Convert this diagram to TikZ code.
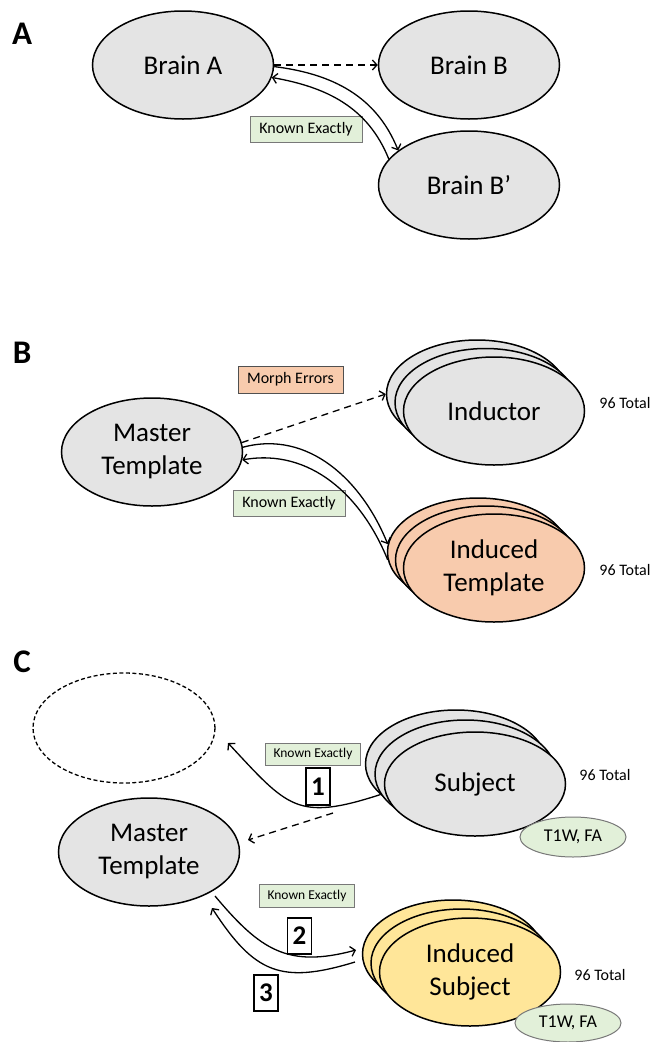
\documentclass[tikz,border=0pt]{standalone}
\usepackage{fontspec}
\setmainfont{Carlito}
\usetikzlibrary{shapes.geometric,arrows.meta}
\definecolor{ellgray}{RGB}{228,228,228}
\definecolor{orangefill}{RGB}{248,203,173}
\definecolor{yellowfill}{RGB}{255,230,153}
\definecolor{greenfill}{RGB}{226,240,217}
\definecolor{boxborder}{RGB}{120,120,120}
\definecolor{morphborder}{RGB}{80,80,80}
\begin{document}
\begin{tikzpicture}[x=1pt,y=1pt,
  >={Straight Barb[length=4.5pt,width=10pt]},
  ell/.style={ellipse, draw, line width=1.5pt, fill=ellgray, inner sep=0pt,
    minimum width=181pt, minimum height=108pt, align=center,
    font=\fontsize{27}{33}\selectfont},
  dashell/.style={ellipse, draw, line width=1.3pt, dash pattern=on 4pt off 2.5pt,
    inner sep=0pt, minimum width=182pt, minimum height=110pt},
  tag/.style={ellipse, draw=boxborder, line width=1pt, fill=greenfill, inner sep=0pt,
    minimum width=106pt, minimum height=40pt, font=\fontsize{18}{20}\selectfont},
  knownbox/.style={rectangle, draw=boxborder, line width=1pt, fill=greenfill, inner sep=0pt,
    minimum width=112pt, minimum height=26pt, font=\fontsize{16}{18}\selectfont},
  smallknown/.style={knownbox, minimum width=95pt, minimum height=22pt,
    font=\fontsize{13.5}{15}\selectfont},
  morphbox/.style={rectangle, draw=morphborder, line width=1pt, fill=orangefill, inner sep=0pt,
    minimum width=105pt, minimum height=27pt, font=\fontsize{16}{18}\selectfont},
  numbox/.style={rectangle, draw, line width=1.2pt, fill=white, inner sep=0pt,
    minimum width=24pt, minimum height=36pt, font=\fontsize{27}{30}\selectfont\bfseries},
  total/.style={inner sep=0pt, font=\fontsize{16}{18}\selectfont},
  panel/.style={inner sep=0pt, font=\fontsize{33}{36}\selectfont\bfseries},
  conn/.style={line width=1.3pt, ->},
  dconn/.style={line width=1.3pt, ->, dash pattern=on 7pt off 5pt}]
\useasboundingbox (0,0) rectangle (653,-1042);

% ---------------- Panel A ----------------
\node[panel] (labA) at (22,-34) {A};
\node[ell] (bA) at (183,-65) {Brain A};
\node[ell] (bB) at (469,-65) {Brain B};
\node[ell] (bBp) at (469,-185) {Brain B’};
\node[knownbox] (kA) at (306,-129) {Known Exactly};
\draw[dconn] (bA.east) -- (bB.west);
\draw[conn] (bA.-1) to[out=-7,in=112] (bBp.154);
\draw[conn] (bBp.162) to[out=112,in=-10] (bA.-8);

% ---------------- Panel B ----------------
\node[panel] (labB) at (22,-353) {B};
\node[ell] (mB) at (152,-452) {Master\\Template};
\node[ell] (indBack) at (477,-394) {};
\node[ell] (indMid) at (485.5,-402.5) {};
\node[ell] (ind) at (494,-411) {Inductor};
\node[ell, fill=orangefill] (itBack) at (478,-552) {};
\node[ell, fill=orangefill] (itMid) at (486,-560) {};
\node[ell, fill=orangefill] (it) at (494,-568) {Induced\\Template};
\node[total] (tB1) at (625,-403) {96 Total};
\node[total] (tB2) at (625,-570) {96 Total};
\node[morphbox] (mErr) at (290.5,-379.5) {Morph Errors};
\node[knownbox] (kB) at (289,-503) {Known Exactly};
\draw[dconn] (mB.6) -- (indBack.west);
\draw[conn] (mB.3) to[out=15,in=112] (itBack.175);
\draw[conn] (itBack.185) to[out=112,in=10] (mB.-5);

% ---------------- Panel C ----------------
\node[panel] (labC) at (22,-662) {C};
\node[dashell] (empty) at (124,-728) {};
\node[ell] (mC) at (149,-852) {Master\\Template};
\node[ell] (sBack) at (456,-764) {};
\node[ell] (sMid) at (465.5,-774) {};
\node[ell, minimum height=104pt] (sub) at (475,-784) {Subject};
\node[tag] (tag1) at (573,-837) {T1W, FA};
\node[ell, fill=yellowfill] (isBack) at (453,-954) {};
\node[ell, fill=yellowfill] (isMid) at (461.5,-963) {};
\node[ell, fill=yellowfill] (is) at (470,-972) {Induced\\Subject};
\node[tag, minimum height=38pt] (tag2) at (568,-1023) {T1W, FA};
\node[total] (tC1) at (605,-775) {96 Total};
\node[total] (tC2) at (600,-975) {96 Total};
\node[smallknown] (kC1) at (313,-754) {Known Exactly};
\node[smallknown, minimum height=23pt] (kC2) at (307,-895.5) {Known Exactly};
\node[numbox, minimum height=37pt] (n1) at (318,-786.5) {1};
\node[numbox] (n2) at (299.5,-936) {2};
\node[numbox] (n3) at (266,-993) {3};

\coordinate (c1tip) at (228,-743);
\coordinate (dStart) at (333,-813);
\coordinate (dTip) at (248,-840);
\coordinate (c2s) at (215,-896);
\coordinate (c2e) at (356,-950);
\coordinate (c3s) at (355,-962);
\coordinate (c3e) at (212,-908);

\draw[conn] (sBack.202) to[out=198,in=-47,looseness=1.4] (c1tip);
\draw[dconn] (dStart) -- (dTip);
\draw[conn] (c2s) to[out=-50,in=195,looseness=1.2] (c2e);
\draw[conn] (c3s) to[out=197,in=-57,looseness=1.3] (c3e);
\end{tikzpicture}
\end{document}
